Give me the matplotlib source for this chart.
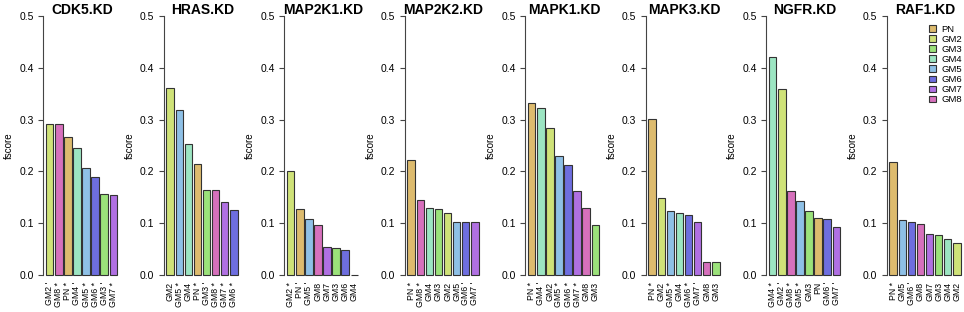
import numpy as np
import matplotlib
matplotlib.use("Agg")
import matplotlib.pyplot as plt
from matplotlib.patches import Patch

plt.rcParams['font.family'] = ['Liberation Sans', 'DejaVu Sans']

groups = ["PN", "GM2", "GM3", "GM4", "GM5", "GM6", "GM7", "GM8"]
group_colors = ["#DDBB6E", "#CFE278", "#9BE27A", "#9CE5C2", "#8EC0E6",
                "#6E6EDF", "#B070E2", "#D670BC"]

titles = ["CDK5.KD", "HRAS.KD", "MAP2K1.KD", "MAP2K2.KD",
          "MAPK1.KD", "MAPK3.KD", "NGFR.KD", "RAF1.KD"]

# bar order, significance mark and fscore for each knockdown
cdk5_names = ["GM2", "GM8", "PN", "GM4", "GM5", "GM6", "GM3", "GM7"]
cdk5_marks = ["'", "*", "*", "'", "*", "*", "'", "*"]
cdk5_vals = [0.292, 0.291, 0.267, 0.245, 0.206, 0.190, 0.156, 0.154]

hras_names = ["GM2", "GM5", "GM4", "PN", "GM3", "GM8", "GM7", "GM6"]
hras_marks = ["", "*", "", "*", "'", "*", "*", "*"]
hras_vals = [0.361, 0.319, 0.253, 0.214, 0.165, 0.165, 0.140, 0.126]

map2k1_names = ["GM2", "PN", "GM5", "GM8", "GM7", "GM3", "GM6", "GM4"]
map2k1_marks = ["*", "'", "'", "", "", "", "", ""]
map2k1_vals = [0.201, 0.127, 0.108, 0.096, 0.055, 0.052, 0.048, 0.0]

map2k2_names = ["PN", "GM8", "GM4", "GM3", "GM2", "GM5", "GM6", "GM7"]
map2k2_marks = ["*", "*", "", "", "", "", "'", "'"]
map2k2_vals = [0.222, 0.145, 0.130, 0.127, 0.120, 0.102, 0.102, 0.102]

mapk1_names = ["PN", "GM4", "GM2", "GM5", "GM6", "GM7", "GM8", "GM3"]
mapk1_marks = ["*", "'", "", "*", "*", "*", "", ""]
mapk1_vals = [0.332, 0.322, 0.283, 0.229, 0.212, 0.163, 0.129, 0.097]

mapk3_names = ["PN", "GM2", "GM5", "GM4", "GM6", "GM7", "GM8", "GM3"]
mapk3_marks = ["*", "", "*", "", "*", "'", "", ""]
mapk3_vals = [0.301, 0.148, 0.123, 0.120, 0.116, 0.103, 0.026, 0.026]

ngfr_names = ["GM4", "GM2", "GM8", "GM5", "GM3", "PN", "GM6", "GM7"]
ngfr_marks = ["*", "'", "*", "*", "", "", "'", "'"]
ngfr_vals = [0.420, 0.360, 0.162, 0.142, 0.123, 0.111, 0.109, 0.092]

raf1_names = ["PN", "GM5", "GM6", "GM8", "GM7", "GM3", "GM4", "GM2"]
raf1_marks = ["*", "", "'", "", "", "", "", ""]
raf1_vals = [0.219, 0.106, 0.103, 0.099, 0.079, 0.078, 0.069, 0.061]

panels = [(cdk5_names, cdk5_marks, cdk5_vals),
          (hras_names, hras_marks, hras_vals),
          (map2k1_names, map2k1_marks, map2k1_vals),
          (map2k2_names, map2k2_marks, map2k2_vals),
          (mapk1_names, mapk1_marks, mapk1_vals),
          (mapk3_names, mapk3_marks, mapk3_vals),
          (ngfr_names, ngfr_marks, ngfr_vals),
          (raf1_names, raf1_marks, raf1_vals)]

W, H = 964, 312
fig = plt.figure(figsize=(W / 100, H / 100), dpi=100)
color_of = dict(zip(groups, group_colors))

for k, (names, marks, vals) in enumerate(panels):
    left = 43 + 120.5 * k
    ax = fig.add_axes([left / W, 37 / H, 78 / W, 259 / H])
    x = np.arange(len(vals))
    ax.bar(x, vals, width=0.82, color=[color_of[n] for n in names],
           edgecolor="#333333", linewidth=0.8, clip_on=False)
    ax.set_xlim(-0.74, 7.85)
    ax.set_ylim(0, 0.5)
    ax.set_yticks([0, 0.1, 0.2, 0.3, 0.4, 0.5])
    ax.set_yticklabels(["0.0", "0.1", "0.2", "0.3", "0.4", "0.5"], fontsize=7.5)
    ax.set_xticks(x)
    ax.set_xticklabels([n + (" " + m if m else "") for n, m in zip(names, marks)],
                       rotation=90, fontsize=6.3, va="top", ha="center")
    ax.tick_params(axis="x", length=0, pad=5)
    ax.tick_params(axis="y", length=3.5, width=0.8, color="#444444", pad=3)
    for s in ["top", "right", "bottom"]:
        ax.spines[s].set_visible(False)
    ax.spines["left"].set_color("#444444")
    ax.spines["left"].set_linewidth(0.8)
    ax.set_ylabel("fscore", fontsize=7, labelpad=4)
    fig.text((left + 39) / W, 1 - 10 / H, titles[k], fontsize=10,
             fontweight="bold", ha="center", va="center")
    if k == len(panels) - 1:
        handles = [Patch(facecolor=c, edgecolor="#333333", linewidth=0.8)
                   for c in group_colors]
        ax.legend(handles, groups, loc="upper right", frameon=False,
                  fontsize=6.8, handlelength=0.7, handleheight=0.7,
                  handletextpad=0.6, labelspacing=0.12,
                  bbox_to_anchor=(1.08, 1.0))

fig.savefig("out.png", dpi=100)
